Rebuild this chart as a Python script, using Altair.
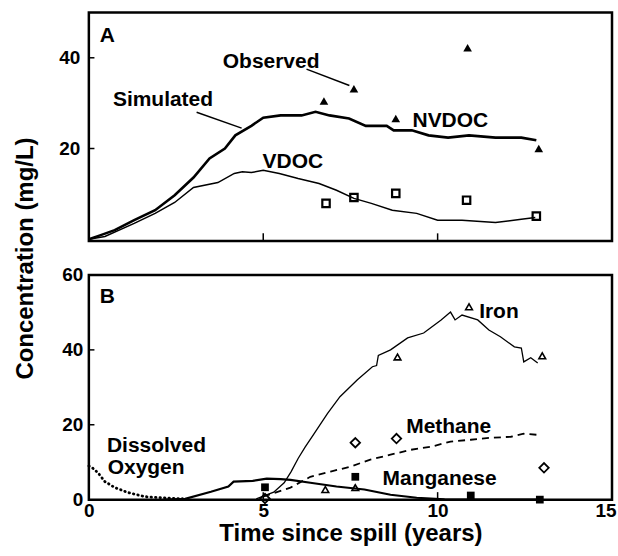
import altair as alt
import pandas as pd

FONT = "Liberation Sans"

# ---------------- Panel A : dissolved organic carbon ----------------
nvdoc_sim_t = [0, 0.3, 0.74, 1.3, 1.9, 2.46, 3.0, 3.46, 3.9, 4.2, 4.66, 5.0, 5.5, 6.1, 6.5, 6.9,
               7.46, 7.94, 8.54, 8.74, 9.26, 9.74, 10.3, 10.9, 11.66, 12.4, 12.83]
nvdoc_sim_c = [0, 0.8, 2.0, 4.2, 6.4, 9.7, 13.6, 17.8, 20.0, 22.9, 25.0, 26.8, 27.3, 27.3, 28.1, 27.3,
               26.6, 25.0, 25.0, 24.0, 24.0, 22.9, 22.4, 22.9, 22.4, 22.4, 21.8]
vdoc_sim_t = [0, 0.46, 1.3, 1.9, 2.46, 3.0, 3.7, 4.17, 4.4, 4.66, 5.0, 5.46, 6.0, 6.6, 7.1, 7.6,
              8.1, 8.7, 9.4, 10.0, 10.7, 11.66, 12.4, 12.8]
vdoc_sim_c = [0, 0.6, 3.5, 5.7, 8.1, 11.4, 12.5, 14.5, 14.9, 14.7, 15.2, 14.5, 13.4, 12.3, 10.8, 9.0,
              7.9, 6.4, 5.7, 4.2, 4.2, 3.7, 4.4, 4.8]
nvdoc_obs_t = [6.74, 7.6, 8.8, 10.86, 12.9]
nvdoc_obs_c = [30.5, 33.2, 26.6, 42.2, 20.0]
vdoc_obs_t = [6.8, 7.6, 8.8, 10.83, 12.83]
vdoc_obs_c = [7.9, 9.2, 10.1, 8.6, 5.1]

labelsA_text = ["A", "Observed", "Simulated", "VDOC", "NVDOC"]
labelsA_t = [0.31, 3.84, 0.69, 4.98, 9.28]
labelsA_c = [43.4, 37.7, 29.3, 15.7, 24.7]
leadersA_t = [6.24, 3.09]
leadersA_c = [37.5, 28.0]
leadersA_t2 = [7.47, 4.38]
leadersA_c2 = [33.9, 24.5]

# ---------------- Panel B : redox species ----------------
iron_sim_t = [4.8, 5.3, 5.6, 5.8, 6.0, 6.2, 6.45, 6.84, 7.2, 7.7, 8.13, 8.25, 8.3, 8.65, 9.14, 9.6,
              10.1, 10.37, 10.5, 10.7, 11.15, 11.47, 11.8, 12.2, 12.4, 12.47, 12.67, 12.87]
iron_sim_c = [0.2, 2.0, 4.5, 7.5, 11.0, 14.0, 17.5, 23.0, 27.5, 32.0, 35.5, 35.8, 38.5, 40.0, 43.2, 44.5,
              48.0, 50.1, 48.0, 49.3, 48.0, 45.3, 43.5, 40.8, 40.5, 36.8, 37.9, 36.5]
methane_sim_t = [5.0, 5.78, 6.35, 6.93, 7.5, 8.07, 8.65, 9.22, 9.8, 10.37, 10.95, 11.5, 12.1, 12.47, 12.87]
methane_sim_c = [0.8, 3.2, 6.1, 7.5, 8.8, 10.7, 12.0, 13.3, 14.1, 15.5, 16.0, 16.5, 16.8, 17.6, 17.3]
mn_sim_t = [2.2, 2.76, 3.5, 4.0, 4.15, 4.7, 5.1, 5.5, 5.78, 6.35, 7.1, 7.9, 8.65, 9.4, 10.2, 12.9]
mn_sim_c = [0, 0.2, 2.1, 3.5, 4.8, 5.0, 5.6, 5.5, 5.3, 4.5, 3.5, 2.7, 1.3, 0.5, 0.1, 0.0]
do_sim_t = [0, 0.1, 0.26, 0.46, 0.75, 1.12, 1.6, 2.1, 2.76]
do_sim_c = [9.0, 8.5, 7.2, 4.8, 3.2, 1.9, 0.8, 0.5, 0.2]

iron_obs_t = [6.78, 7.64, 8.85, 10.9, 13.0]
iron_obs_c = [2.7, 3.2, 38.1, 51.5, 38.4]
methane_obs_t = [5.05, 7.64, 8.82, 13.05]
methane_obs_c = [0.3, 15.2, 16.3, 8.5]
mn_obs_t = [5.05, 7.64, 10.95, 12.93]
mn_obs_c = [3.3, 6.1, 1.1, 0.0]

labelsB_text = ["B", "Iron", "Methane", "Manganese", "Dissolved", "Oxygen"]
labelsB_t = [0.31, 11.19, 9.1, 8.42, 0.52, 0.54]
labelsB_c = [52.5, 48.5, 17.9, 4.0, 12.8, 6.9]

# tick positions
x_ticks = [5, 10]
yA_ticks = [20, 40]
yB_ticks = [20, 40]

# ---------------- scales & axes ----------------
XS = alt.Scale(domain=[0, 15], nice=False, zero=False)
YA = alt.Scale(domain=[-0.4, 50], nice=False, zero=False)
YB = alt.Scale(domain=[0, 60], nice=False, zero=False)

AX_XA = None
AX_YA = alt.Axis(values=[20, 40], ticks=False, tickSize=0, domain=False, grid=False,
                 labelPadding=9, title=None)
AX_XB = alt.Axis(values=[0, 5, 10, 15], ticks=False, tickSize=0, domain=False, grid=False,
                 labelPadding=2, labelFlush=False,
                 labelAlign={"condition": {"test": "datum.value == 15", "value": "right"}, "value": "center"},
                 labelOffset={"condition": {"test": "datum.value == 15", "value": 4}, "value": 0},
                 title="Time since spill (years)",
                 titleBaseline="alphabetic", titleY=41)
AX_YB = alt.Axis(values=[0, 20, 40, 60], ticks=False, tickSize=0, domain=False, grid=False,
                 labelPadding=6, labelFlush=False, title="Concentration (mg/L)", titleAngle=270,
                 titleX=-56, titleY=-17, titleBaseline="alphabetic", titleAlign="center")


def enc(ys, xa, ya, extra=None):
    e = dict(x=alt.X("t:Q", scale=XS, axis=xa), y=alt.Y("c:Q", scale=ys, axis=ya))
    if extra:
        e.update(extra)
    return e


def line(t, c, ys, xa, ya, width, dash=None, cap="butt"):
    kw = dict(color="black", strokeWidth=width, clip=False, strokeCap=cap)
    if dash:
        kw["strokeDash"] = dash
    return alt.Chart(pd.DataFrame({"t": t, "c": c})).mark_line(**kw).encode(**enc(ys, xa, ya))


def pts(t, c, ys, xa, ya, shape, filled, size, sw=1.8):
    return alt.Chart(pd.DataFrame({"t": t, "c": c})).mark_point(
        shape=shape, filled=filled, size=size, color="black", strokeWidth=sw, opacity=1, clip=False
    ).encode(**enc(ys, xa, ya))


def labels(texts, t, c, ys, xa, ya):
    df = pd.DataFrame({"t": t, "c": c, "txt": texts})
    return alt.Chart(df).mark_text(
        align="left", baseline="alphabetic", font=FONT, fontSize=21, fontWeight="bold", color="black"
    ).encode(**enc(ys, xa, ya, {"text": "txt:N"}))


def yticks(vals, ys, xa, ya):
    df = pd.DataFrame({"c": vals, "t": [0] * len(vals), "t2": [0.16] * len(vals)})
    return alt.Chart(df).mark_rule(color="black", strokeWidth=1.5).encode(
        **enc(ys, xa, ya, {"x2": "t2:Q"}))


def xticks(vals, base, length, ys, xa, ya):
    df = pd.DataFrame({"t": vals, "c": [base] * len(vals), "c2": [base + length] * len(vals)})
    return alt.Chart(df).mark_rule(color="black", strokeWidth=1.5).encode(
        **enc(ys, xa, ya, {"y2": "c2:Q"}))


# ---------------- panel A ----------------
leadA = alt.Chart(pd.DataFrame({"t": leadersA_t, "c": leadersA_c, "t2": leadersA_t2, "c2": leadersA_c2})
                  ).mark_rule(color="black", strokeWidth=1.5).encode(
    **enc(YA, AX_XA, AX_YA, {"x2": "t2:Q", "y2": "c2:Q"}))

panelA = alt.layer(
    yticks(yA_ticks, YA, AX_XA, AX_YA),
    xticks(x_ticks, -0.4, 1.7, YA, AX_XA, AX_YA),
    line(vdoc_sim_t, vdoc_sim_c, YA, AX_XA, AX_YA, 1.5),
    line(nvdoc_sim_t, nvdoc_sim_c, YA, AX_XA, AX_YA, 2.6),
    pts(nvdoc_obs_t, nvdoc_obs_c, YA, AX_XA, AX_YA, "triangle-up", True, 75),
    pts(vdoc_obs_t, vdoc_obs_c, YA, AX_XA, AX_YA, "square", False, 55, 2.2),
    leadA,
    labels(labelsA_text, labelsA_t, labelsA_c, YA, AX_XA, AX_YA),
).properties(width=524, height=229)

# ---------------- panel B ----------------
panelB = alt.layer(
    yticks(yB_ticks, YB, AX_XB, AX_YB),
    xticks(x_ticks, 0, 2.0, YB, AX_XB, AX_YB),
    line(do_sim_t, do_sim_c, YB, AX_XB, AX_YB, 2.8, [0.5, 4], "round"),
    line(mn_sim_t, mn_sim_c, YB, AX_XB, AX_YB, 2.2),
    line(methane_sim_t, methane_sim_c, YB, AX_XB, AX_YB, 1.8, [7, 5]),
    line(iron_sim_t, iron_sim_c, YB, AX_XB, AX_YB, 1.3),
    pts(iron_obs_t, iron_obs_c, YB, AX_XB, AX_YB, "triangle-up", False, 45, 1.6),
    pts(methane_obs_t, methane_obs_c, YB, AX_XB, AX_YB, "diamond", False, 90, 1.8),
    pts(mn_obs_t, mn_obs_c, YB, AX_XB, AX_YB, "square", True, 60),
    labels(labelsB_text, labelsB_t, labelsB_c, YB, AX_XB, AX_YB),
).properties(width=524, height=225)

chart = alt.vconcat(panelA, panelB, spacing=34, bounds="flush").properties(
    padding={"left": 12, "top": 10, "right": 0, "bottom": 0},
    background="white",
).configure_view(stroke="black", strokeWidth=2.5).configure_axis(
    labelFont=FONT, labelFontSize=19, labelFontWeight="bold", labelColor="black",
    titleFont=FONT, titleFontSize=24, titleFontWeight="bold", titleColor="black",
)

chart.save("out.html", embed_options={"renderer": "svg", "actions": False})
